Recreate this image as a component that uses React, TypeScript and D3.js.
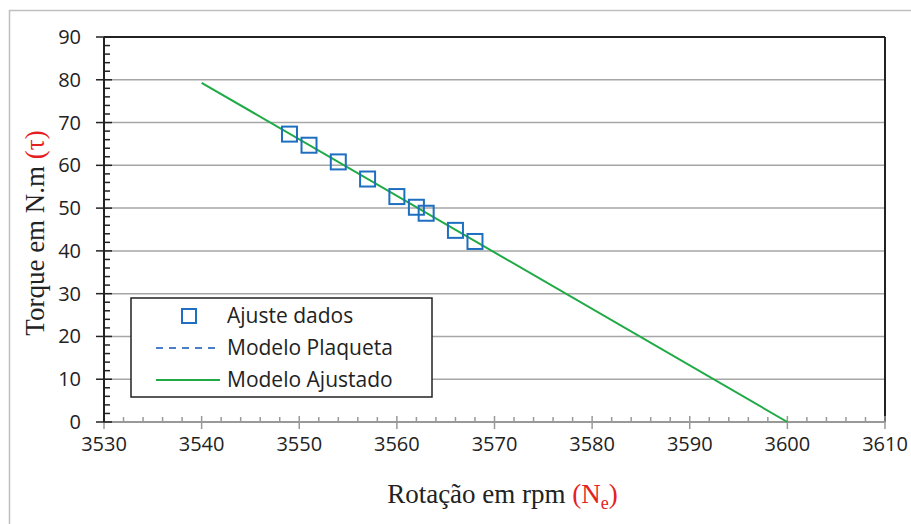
import React from "react";
import * as d3 from "d3";

const rpmData = [3549, 3551, 3554, 3557, 3560, 3562, 3563, 3566, 3568];
const torqueData = [67.3, 64.7, 60.8, 56.8, 52.7, 50.2, 48.8, 44.8, 42.2];
const fitRpm = [3540, 3600];
const fitTorque = [79.3, 0];
const xTicks = [3530, 3540, 3550, 3560, 3570, 3580, 3590, 3600, 3610];
const yTicks = [0, 10, 20, 30, 40, 50, 60, 70, 80, 90];
const legendLabels = ["Ajuste dados", "Modelo Plaqueta", "Modelo Ajustado"];

const W = 911, H = 524;
const L = 104, R = 885, T = 37, B = 422;
const sans = "'Open Sans', 'Noto Sans', sans-serif";
const serif = "'Liberation Serif', 'DejaVu Serif', serif";

export default function App() {
  const x = d3.scaleLinear().domain([3530, 3610]).range([L, R]);
  const y = d3.scaleLinear().domain([0, 90]).range([B, T]);
  const xMinor = d3.range(3530, 3611, 2).filter((v) => v % 10 !== 0);
  const yMinor = d3.range(0, 91, 2).filter((v) => v % 10 !== 0);
  const line = d3
    .line<number>()
    .x((_, i) => x(fitRpm[i]))
    .y((d) => y(d));
  const sq = 15;
  const lgX = 131, lgY = 298, lgW = 301, lgH = 99;
  const rowY = [316, 348, 380];
  return (
    <svg width={W} height={H} style={{ display: "block", position: "absolute", left: 0, top: 0 }}>
      <rect x={0} y={0} width={W} height={H} fill="#fff" />
      <rect x={9.5} y={10.5} width={1000} height={1000} fill="none" stroke="#bfbfbf" strokeWidth={1.5} />
      {/* gridlines */}
      {yTicks.filter((v) => v > 0).map((v) => (
        <line key={v} x1={L} x2={R} y1={y(v)} y2={y(v)} stroke="#a6a6a6" strokeWidth={1.5} />
      ))}
      {/* plot border top/right */}
      <line x1={L} x2={R} y1={T} y2={T} stroke="#222" strokeWidth={2} />
      <line x1={R} x2={R} y1={T} y2={B} stroke="#222" strokeWidth={2} />
      {/* x axis */}
      <line x1={L} x2={R} y1={B} y2={B} stroke="#999" strokeWidth={2} />
      {xMinor.map((v) => (
        <line key={v} x1={x(v)} x2={x(v)} y1={B} y2={B - 5} stroke="#999" strokeWidth={1.5} />
      ))}
      {xTicks.map((v) => (
        <line key={v} x1={x(v)} x2={x(v)} y1={B - 6} y2={B + 7} stroke="#999" strokeWidth={1.5} />
      ))}
      {xTicks.map((v) => (
        <text key={v} x={x(v)} y={451} textAnchor="middle" fontFamily={sans} fontSize={20} fill="#222">
          {v}
        </text>
      ))}
      {/* y axis */}
      <line x1={L} x2={L} y1={T} y2={B} stroke="#222" strokeWidth={2} />
      {yMinor.map((v) => (
        <line key={v} x1={L} x2={L + 6} y1={y(v)} y2={y(v)} stroke="#222" strokeWidth={1.5} />
      ))}
      {yTicks.map((v) => (
        <line key={v} x1={L - 8} x2={L + 8} y1={y(v)} y2={y(v)} stroke="#222" strokeWidth={1.5} />
      ))}
      {yTicks.map((v) => (
        <text key={v} x={81} y={y(v) + 7} textAnchor="end" fontFamily={sans} fontSize={20} fill="#222">
          {v}
        </text>
      ))}
      {/* fit line */}
      <path d={line(fitTorque) || ""} fill="none" stroke="#1faa45" strokeWidth={2} />
      {/* data squares */}
      {rpmData.map((r, i) => (
        <rect
          key={i}
          x={x(r) - sq / 2}
          y={y(torqueData[i]) - sq / 2}
          width={sq}
          height={sq}
          fill="none"
          stroke="#1f6fc0"
          strokeWidth={2}
        />
      ))}
      {/* legend */}
      <rect x={lgX} y={lgY} width={lgW} height={lgH} fill="#fff" stroke="#222" strokeWidth={1.5} />
      <rect x={189 - 7} y={rowY[0] - 7} width={14} height={14} fill="none" stroke="#1f6fc0" strokeWidth={2} />
      <line x1={156} x2={220} y1={rowY[1]} y2={rowY[1]} stroke="#4a7fc8" strokeWidth={2} strokeDasharray="7,6" />
      <line x1={156} x2={220} y1={rowY[2]} y2={rowY[2]} stroke="#1faa45" strokeWidth={2} />
      {legendLabels.map((t, i) => (
        <text key={t} x={227} y={rowY[i] + 7} fontFamily={sans} fontSize={21} fill="#222">
          {t}
        </text>
      ))}
      {/* axis titles */}
      <text x={(L + R) / 2 + 8} y={503} textAnchor="middle" fontFamily={serif} fontSize={27} fill="#222">
        Rotação em rpm <tspan fill="#e52020">(N</tspan>
        <tspan fill="#e52020" fontSize={18} dy={6}>e</tspan>
        <tspan fill="#e52020" dy={-6}>)</tspan>
      </text>
      <text
        transform={`translate(44, 233) rotate(-90)`}
        textAnchor="middle"
        fontFamily={serif}
        fontSize={27}
        fill="#222"
      >
        Torque em N.m <tspan fill="#e52020">(τ)</tspan>
      </text>
    </svg>
  );
}
